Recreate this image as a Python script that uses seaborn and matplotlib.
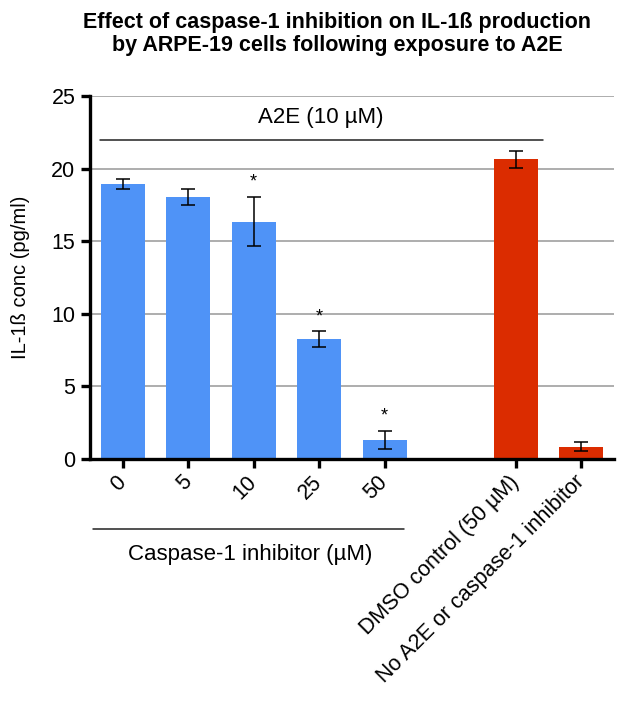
import seaborn as sns
import matplotlib.pyplot as plt
import matplotlib.transforms as mtransforms
import pandas as pd

# values
groups = ["0", "5", "10", "25", "50", "DMSO control (50 µM)", "No A2E or caspase-1 inhibitor"]
means = [18.95, 18.05, 16.35, 8.26, 1.33, 20.65, 0.85]
errors = [0.33, 0.57, 1.70, 0.55, 0.62, 0.58, 0.33]
kind = ["inhib", "inhib", "inhib", "inhib", "inhib", "ctrl", "ctrl"]
starred = [False, False, True, True, True, False, False]
order = ["0", "5", "10", "25", "50", " ", "DMSO control (50 µM)", "No A2E or caspase-1 inhibitor"]
colors = {"inhib": "#4F93F7", "ctrl": "#DB2C00"}

df = pd.DataFrame({"group": groups, "conc": means, "err": errors, "kind": kind})

sns.set_style("white")
plt.rcParams["font.family"] = ["Liberation Sans", "DejaVu Sans"]
plt.rcParams.update({"text.color": "black", "axes.labelcolor": "black",
                     "xtick.color": "black", "ytick.color": "black"})

fig = plt.figure(figsize=(6.21, 7.05), dpi=100)
ax = fig.add_axes([0.1449, 0.3489, 0.8438, 0.5149])

sns.barplot(data=df, x="group", y="conc", hue="kind", order=order, palette=colors,
            width=0.67, dodge=False, legend=False, errorbar=None, ax=ax,
            saturation=1, edgecolor="none", zorder=2)

pos = [order.index(g) for g in groups]
ax.errorbar(pos, df["conc"], yerr=df["err"], fmt="none", ecolor="black",
            elinewidth=1.1, capsize=5, capthick=1.1, zorder=3)

for p, m, e, s in zip(pos, means, errors, starred):
    if s:
        ax.text(p, m + e + 1.0, "*", ha="center", va="center", fontsize=13)

ax.set_ylim(0, 25)
ax.set_xlim(-0.5, 7.5)
ax.set_yticks([0, 5, 10, 15, 20, 25])
ax.yaxis.grid(True, color="#a0a0a0", lw=1.2, zorder=0)
ax.set_axisbelow(True)
ax.set_xticks(pos)
ax.set_xticklabels(groups, rotation=45, ha="right", va="center", rotation_mode="anchor")
ax.set_xlabel("")
ax.set_ylabel("IL-1ß conc (pg/ml)", fontsize=14.5)
ax.yaxis.set_label_coords(-0.115, 0.5)

for side in ["top", "right"]:
    ax.spines[side].set_visible(False)
for side in ["left", "bottom"]:
    ax.spines[side].set_linewidth(2.4)
    ax.spines[side].set_color("black")
ax.tick_params(axis="both", which="major", labelsize=15.5, length=6.5, width=2.4,
               color="black", direction="out", left=True, bottom=True, pad=4)
ax.tick_params(axis="x", pad=8)

# A2E bracket above bars
ax.plot([-0.34, 6.41], [22, 22], color="#222222", lw=1.1, zorder=2)
ax.text(3.03, 23.5, "A2E (10 µM)", ha="center", va="center", fontsize=16)

# caspase-1 inhibitor bracket under the tick labels
trans = mtransforms.blended_transform_factory(ax.transData, ax.transAxes)
ax.plot([-0.45, 4.30], [-0.193, -0.193], color="#222222", lw=1.1,
        transform=trans, clip_on=False)
ax.text(1.95, -0.262, "Caspase-1 inhibitor (µM)", ha="center", va="center",
        fontsize=16, transform=trans)

fig.text(0.543, 0.952, "Effect of caspase-1 inhibition on IL-1ß production\n"
         "by ARPE-19 cells following exposure to A2E",
         ha="center", va="center", fontsize=15.5, fontweight="bold", linespacing=1.1)

fig.savefig("out.png", dpi=100)
